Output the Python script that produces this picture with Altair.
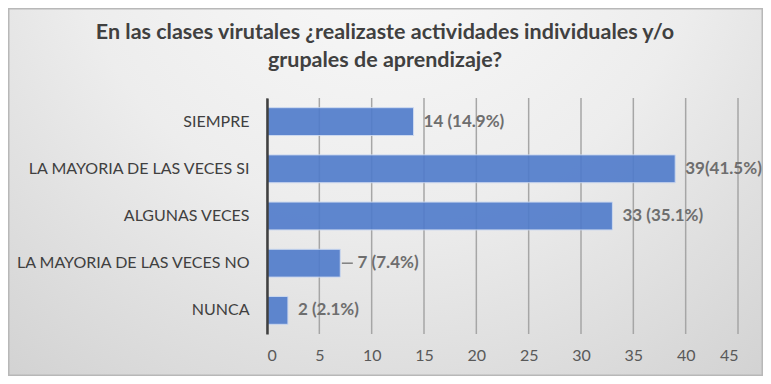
import altair as alt
import pandas as pd

categories = ["SIEMPRE", "LA MAYORIA DE LAS VECES SI", "ALGUNAS VECES",
              "LA MAYORIA DE LAS VECES NO", "NUNCA"]
values = [14, 39, 33, 7, 2]
labels = ["14 (14.9%)", "39(41.5%)", "33 (35.1%)", "7 (7.4%)", "2 (2.1%)"]
leader = [False, False, False, True, False]
x_ticks = [0, 5, 10, 15, 20, 25, 30, 35, 40, 45]
title_lines = ["En las clases virutales ¿realizaste actividades individuales y/o",
               "grupales de aprendizaje?"]

df = pd.DataFrame({"cat": categories, "val": values, "label": labels, "leader": leader})
ticks_df = pd.DataFrame({"t": x_ticks})

W, H = 471, 236
PL, PT, PR, PB = 259, 90, 25, 42
FONT = "Lato"

y_enc = alt.Y("cat:N", sort=categories, title=None,
              scale=alt.Scale(paddingInner=0.41, paddingOuter=0.205),
              axis=alt.Axis(labelFont=FONT, labelFontSize=16, labelColor="#404040",
                            labelLimit=400, ticks=False, tickSize=0,
                            domainColor="#404040", domainWidth=2.5,
                            labelPadding=18, grid=False, zindex=3))
x_scale = alt.Scale(domain=[0, 45], nice=False)
x_enc = alt.X("val:Q", scale=x_scale, title=None,
              axis=alt.Axis(values=x_ticks, grid=False, domain=False, ticks=False,
                            tickSize=0, labelFont=FONT, labelFontSize=16,
                            labelColor="#595959", labelPadding=13, zindex=3))

bg = alt.Chart(pd.DataFrame({"a": [0]})).mark_rect(
    color=alt.Gradient(gradient="radial",
                       stops=[alt.GradientStop(color="#FBFBFB", offset=0),
                              alt.GradientStop(color="#EDEDED", offset=0.45),
                              alt.GradientStop(color="#C9C9C9", offset=1)],
                       x1=0.5, y1=0.1, r1=0.0, x2=0.5, y2=0.1, r2=0.95),
    stroke="#B8B8B8", strokeWidth=3, clip=False
).encode(x=alt.value(-PL), x2=alt.value(W + PR), y=alt.value(-PT), y2=alt.value(H + PB))

grid = alt.Chart(ticks_df).mark_rule(color="#A6A6A6", strokeWidth=1.5).encode(
    x=alt.X("t:Q", scale=x_scale), y=alt.value(0), y2=alt.value(H))

title = alt.Chart(pd.DataFrame({"a": [0]})).mark_text(
    font=FONT, fontSize=21.5, fontWeight="bold", color="#404040",
    align="center", baseline="middle", lineHeight=28
).encode(x=alt.value(385 - 8 - PL), y=alt.value(33 - 8 - PT), text=alt.value(title_lines))

base = alt.Chart(df)

bars = base.mark_bar(color="#4F7BCB", opacity=0.9, stroke="#C9D7F0", strokeWidth=1).encode(
    x=x_enc, y=y_enc)

lead_rule = base.transform_filter("datum.leader").transform_calculate(
    x1="datum.val + 0.15", x2="datum.val + 1.2"
).mark_rule(color="#7F7F7F", strokeWidth=1.5).encode(
    x=alt.X("x1:Q", scale=x_scale), x2="x2:Q", y=alt.Y("cat:N", sort=categories))

text = base.transform_calculate(
    lx="datum.leader ? datum.val + 0.7 : datum.val"
).mark_text(align="left", baseline="middle", dx=10, font=FONT, fontSize=17,
            fontWeight="bold", color="#6E6E6E").encode(
    x=alt.X("lx:Q", scale=x_scale), y=alt.Y("cat:N", sort=categories), text="label:N")

chart = alt.layer(bg, grid, bars, lead_rule, text, title).properties(
    width=W, height=H,
    autosize=alt.AutoSizeParams(type="none"),
    padding={"left": PL, "top": PT, "right": PR, "bottom": PB},
).configure_view(stroke=None).configure(background="white")

chart.save("out.html", embed_options={"renderer": "svg", "actions": False})
